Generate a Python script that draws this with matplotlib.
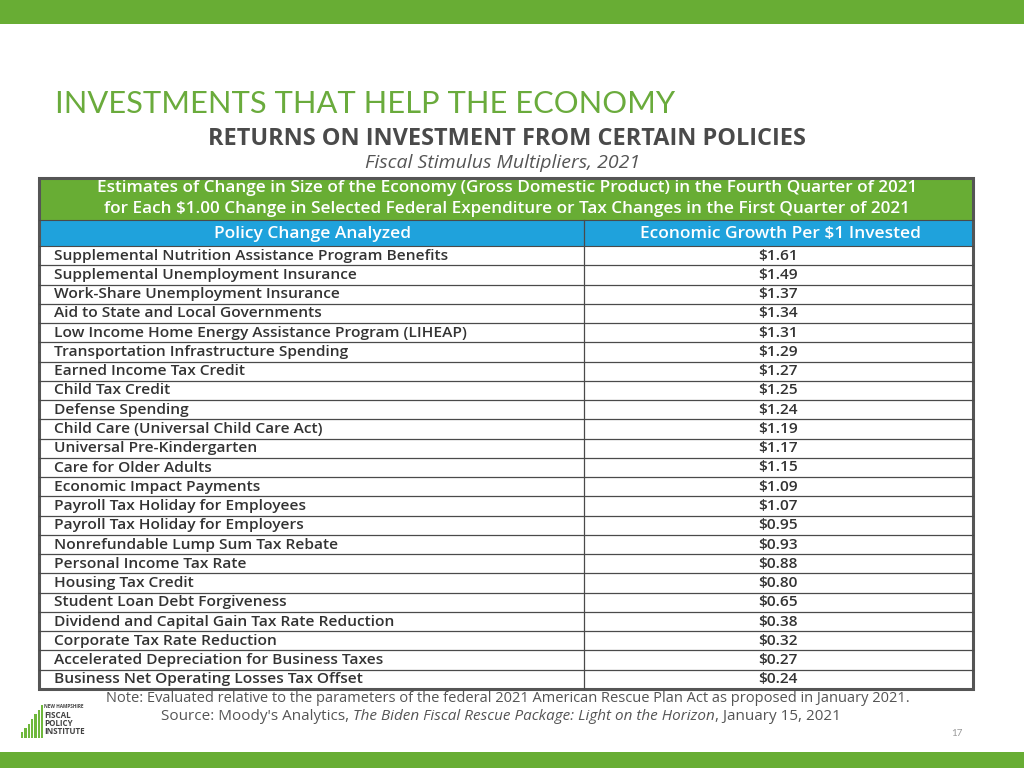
import matplotlib
matplotlib.use("Agg")
import matplotlib.pyplot as plt
from matplotlib.patches import Rectangle

policies = [
    "Supplemental Nutrition Assistance Program Benefits",
    "Supplemental Unemployment Insurance",
    "Work-Share Unemployment Insurance",
    "Aid to State and Local Governments",
    "Low Income Home Energy Assistance Program (LIHEAP)",
    "Transportation Infrastructure Spending",
    "Earned Income Tax Credit",
    "Child Tax Credit",
    "Defense Spending",
    "Child Care (Universal Child Care Act)",
    "Universal Pre-Kindergarten",
    "Care for Older Adults",
    "Economic Impact Payments",
    "Payroll Tax Holiday for Employees",
    "Payroll Tax Holiday for Employers",
    "Nonrefundable Lump Sum Tax Rebate",
    "Personal Income Tax Rate",
    "Housing Tax Credit",
    "Student Loan Debt Forgiveness",
    "Dividend and Capital Gain Tax Rate Reduction",
    "Corporate Tax Rate Reduction",
    "Accelerated Depreciation for Business Taxes",
    "Business Net Operating Losses Tax Offset",
]
multipliers = [1.61, 1.49, 1.37, 1.34, 1.31, 1.29, 1.27, 1.25, 1.24, 1.19, 1.17, 1.15,
               1.09, 1.07, 0.95, 0.93, 0.88, 0.80, 0.65, 0.38, 0.32, 0.27, 0.24]
col_headers = ["Policy Change Analyzed", "Economic Growth Per $1 Invested"]
green_header = ["Estimates of Change in Size of the Economy (Gross Domestic Product) in the Fourth Quarter of 2021",
                "for Each $1.00 Change in Selected Federal Expenditure or Tax Changes in the First Quarter of 2021"]

GREEN = "#68ad34"
BLUE = "#1fa2dc"
TXT = "#333333"
FONT = "Open Sans"
W = "semibold"

fig = plt.figure(figsize=(10.24, 7.68), dpi=100)
ax = fig.add_axes([0, 0, 1, 1])
ax.set_xlim(0, 1024)
ax.set_ylim(768, 0)
ax.axis("off")

# slide bars
ax.add_patch(Rectangle((0, 0), 1024, 24, color=GREEN, lw=0))
ax.add_patch(Rectangle((0, 752), 1024, 16, color=GREEN, lw=0))

ax.text(55, 104, "INVESTMENTS THAT HELP THE ECONOMY", fontsize=22.2, color="#6aab3c",
        family="Lato", va="center", ha="left")
ax.text(507, 139, "RETURNS ON INVESTMENT FROM CERTAIN POLICIES", fontsize=16.9,
        color="#4a4a4a", family=FONT, fontweight="bold", va="center", ha="center")
ax.text(503, 163, "Fiscal Stimulus Multipliers, 2021", fontsize=14, color="#555555",
        family=FONT, style="italic", va="center", ha="center")

# table geometry
x0, x1, xm = 39, 973, 584
y_top, y_g, y_b, y_end = 178, 220, 246, 689
n = len(policies)
rh = (y_end - y_b) / n

ax.add_patch(Rectangle((x0, y_top), x1 - x0, y_g - y_top, color=GREEN, lw=0))
ax.add_patch(Rectangle((x0, y_g), x1 - x0, y_b - y_g, color=BLUE, lw=0))
ax.text(507, 188, green_header[0], fontsize=12.3, color="white", family=FONT,
        fontweight=W, va="center", ha="center")
ax.text(507, 209, green_header[1], fontsize=12.3, color="white", family=FONT,
        fontweight=W, va="center", ha="center")
ax.text(312, 234, col_headers[0], fontsize=12.5, color="white", family=FONT,
        fontweight=W, va="center", ha="center")
ax.text(780, 234, col_headers[1], fontsize=12.5, color="white", family=FONT,
        fontweight=W, va="center", ha="center")

# grid
ax.plot([x0, x1], [y_g, y_g], color="#4a4a4a", lw=0.8)
ax.plot([x0, x1], [y_b, y_b], color="#4a4a4a", lw=0.8)
for i in range(1, n):
    y = y_b + i * rh
    ax.plot([x0, x1], [y, y], color="#4a4a4a", lw=0.9)
ax.plot([xm, xm], [y_g, y_end], color="#4a4a4a", lw=0.9)

for i, (p, v) in enumerate(zip(policies, multipliers)):
    yc = y_b + (i + 0.5) * rh
    ax.text(54, yc, p, fontsize=11.15, color=TXT, family=FONT, fontweight=W,
            va="center", ha="left")
    ax.text(778, yc, f"${v:.2f}", fontsize=11.15, color=TXT, family=FONT, fontweight=W,
            va="center", ha="center")

ax.add_patch(Rectangle((x0, y_top), x1 - x0, y_end - y_top, fill=False,
                       ec="#555555", lw=2.2))

# notes
ax.text(508, 698, "Note: Evaluated relative to the parameters of the federal 2021 American Rescue Plan Act as proposed in January 2021.",
        fontsize=10.5, color="#555555", family=FONT, va="center", ha="center")
t0 = ax.text(161, 717, "Source: Moody's Analytics, ", fontsize=11, color="#555555",
             family=FONT, va="center", ha="left")
fig.canvas.draw()
r = fig.canvas.get_renderer()
bb = t0.get_window_extent(renderer=r)
inv = ax.transData.inverted()
xe = inv.transform((bb.x1, 0))[0]
t2 = ax.text(xe, 717, "The Biden Fiscal Rescue Package: Light on the Horizon", fontsize=11,
             color="#555555", family=FONT, style="italic", va="center", ha="left")
bb2 = t2.get_window_extent(renderer=r)
xe2 = inv.transform((bb2.x1, 0))[0]
ax.text(xe2, 717, ", January 15, 2021", fontsize=11, color="#555555", family=FONT,
        va="center", ha="left")

ax.text(957, 733, "17", fontsize=7, color="#999999", family="Lato", va="center", ha="center")

# logo
bar_h = [6, 10, 14, 19, 24, 28, 33]
for k, h in enumerate(bar_h):
    ax.add_patch(Rectangle((21 + k * 3.3, 738 - h), 2.4, h, color="#6fb83c", lw=0))
ax.text(44, 707, "NEW HAMPSHIRE", fontsize=3.4, color="#444444", family=FONT,
        fontweight="bold", va="center", ha="left")
for j, w in enumerate(["FISCAL", "POLICY", "INSTITUTE"]):
    ax.text(44, 715 + j * 8, w, fontsize=5.8, color="#444444", family=FONT,
            fontweight="bold", va="center", ha="left")

fig.savefig("out.png", dpi=100)
